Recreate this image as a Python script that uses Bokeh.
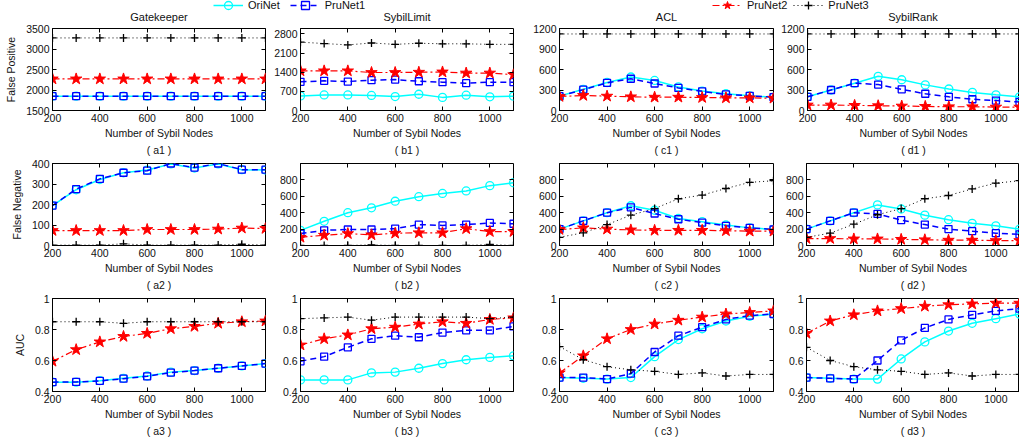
from bokeh.plotting import figure
from bokeh.layouts import column, row
from bokeh.models import (Range1d, FixedTicker, LinearAxis, Title, Legend, LegendItem,
                          NumeralTickFormatter, Label)
from bokeh.embed import file_html
from bokeh.resources import INLINE

# ---------------- data ----------------
nodes = [200, 300, 400, 500, 600, 700, 800, 900, 1000, 1100]
series = ["OriNet", "PruNet1", "PruNet2", "PruNet3"]
schemes = ["Gatekeeper", "SybilLimit", "ACL", "SybilRank"]
metrics = ["False Positive", "False Negative", "AUC"]
x_ticks = [200, 400, 600, 800, 1000]

# Row 1: False Positive
gk_fp_ori = [1850, 1850, 1850, 1850, 1850, 1850, 1850, 1850, 1850, 1850]
gk_fp_pru1 = [1850, 1850, 1850, 1850, 1850, 1850, 1850, 1850, 1850, 1850]
gk_fp_pru2 = [2270, 2270, 2270, 2270, 2270, 2270, 2270, 2270, 2270, 2270]
gk_fp_pru3 = [3270, 3270, 3270, 3270, 3270, 3270, 3270, 3270, 3270, 3270]

sl_fp_ori = [535, 570, 570, 550, 510, 595, 480, 560, 500, 525]
sl_fp_pru1 = [1050, 1085, 1060, 1110, 1130, 1070, 1035, 1000, 1035, 1035]
sl_fp_pru2 = [1450, 1450, 1450, 1390, 1390, 1400, 1410, 1370, 1370, 1310]
sl_fp_pru3 = [2500, 2450, 2400, 2470, 2420, 2460, 2440, 2440, 2420, 2420]

acl_fp_ori = [210, 310, 410, 490, 440, 345, 285, 245, 215, 195]
acl_fp_pru1 = [210, 305, 405, 465, 395, 330, 280, 235, 215, 195]
acl_fp_pru2 = [205, 220, 210, 200, 195, 195, 190, 185, 185, 180]
acl_fp_pru3 = [1120, 1120, 1120, 1120, 1120, 1120, 1120, 1120, 1120, 1120]

sr_fp_ori = [200, 300, 400, 500, 450, 375, 315, 265, 230, 200]
sr_fp_pru1 = [200, 300, 400, 380, 310, 245, 200, 165, 145, 125]
sr_fp_pru2 = [80, 80, 75, 70, 65, 60, 55, 55, 50, 50]
sr_fp_pru3 = [1120, 1120, 1120, 1120, 1120, 1120, 1120, 1120, 1120, 1120]

# Row 2: False Negative
gk_fn_ori = [195, 272, 322, 355, 368, 398, 378, 398, 370, 368]
gk_fn_pru1 = [195, 275, 325, 355, 365, 400, 380, 400, 370, 370]
gk_fn_pru2 = [73, 73, 73, 73, 78, 78, 78, 80, 85, 83]
gk_fn_pru3 = [2, 2, 2, 8, 2, 2, 2, 2, 6, 2]

sl_fn_ori = [185, 295, 400, 460, 540, 595, 635, 665, 730, 765]
sl_fn_pru1 = [145, 185, 195, 195, 205, 255, 245, 255, 275, 265]
sl_fn_pru2 = [100, 125, 145, 130, 150, 155, 155, 205, 170, 170]
sl_fn_pru3 = [0, 0, 0, 8, 0, 0, 0, 0, 12, 0]

acl_fn_ori = [200, 300, 400, 485, 430, 330, 290, 250, 215, 195]
acl_fn_pru1 = [200, 300, 400, 465, 390, 320, 280, 240, 215, 195]
acl_fn_pru2 = [195, 215, 200, 190, 185, 185, 185, 180, 175, 175]
acl_fn_pru3 = [100, 155, 255, 370, 450, 570, 615, 695, 770, 790]

sr_fn_ori = [200, 300, 400, 495, 445, 370, 315, 270, 240, 200]
sr_fn_pru1 = [200, 300, 400, 385, 310, 255, 200, 175, 150, 135]
sr_fn_pru2 = [85, 85, 80, 80, 75, 70, 65, 65, 60, 60]
sr_fn_pru3 = [100, 150, 260, 375, 450, 570, 610, 690, 760, 790]

# Row 3: AUC
gk_auc_ori = [0.46, 0.46, 0.47, 0.485, 0.5, 0.525, 0.535, 0.55, 0.565, 0.58]
gk_auc_pru1 = [0.46, 0.462, 0.468, 0.483, 0.498, 0.522, 0.535, 0.55, 0.565, 0.58]
gk_auc_pru2 = [0.595, 0.67, 0.72, 0.755, 0.775, 0.805, 0.82, 0.84, 0.85, 0.855]
gk_auc_pru3 = [0.85, 0.85, 0.85, 0.84, 0.85, 0.85, 0.85, 0.85, 0.85, 0.85]

sl_auc_ori = [0.475, 0.475, 0.475, 0.52, 0.525, 0.55, 0.58, 0.605, 0.62, 0.63]
sl_auc_pru1 = [0.595, 0.625, 0.685, 0.74, 0.76, 0.75, 0.78, 0.795, 0.795, 0.82]
sl_auc_pru2 = [0.70, 0.74, 0.765, 0.805, 0.815, 0.835, 0.85, 0.84, 0.865, 0.875]
sl_auc_pru3 = [0.87, 0.875, 0.88, 0.86, 0.88, 0.88, 0.88, 0.88, 0.87, 0.88]

acl_auc_ori = [0.49, 0.485, 0.48, 0.49, 0.625, 0.735, 0.805, 0.855, 0.885, 0.90]
acl_auc_pru1 = [0.49, 0.49, 0.48, 0.515, 0.655, 0.76, 0.815, 0.865, 0.89, 0.90]
acl_auc_pru2 = [0.52, 0.63, 0.74, 0.80, 0.835, 0.86, 0.88, 0.90, 0.91, 0.92]
acl_auc_pru3 = [0.69, 0.605, 0.56, 0.54, 0.53, 0.51, 0.52, 0.50, 0.51, 0.51]

sr_auc_ori = [0.49, 0.485, 0.48, 0.48, 0.61, 0.72, 0.79, 0.84, 0.87, 0.90]
sr_auc_pru1 = [0.49, 0.485, 0.48, 0.60, 0.73, 0.81, 0.865, 0.895, 0.92, 0.935]
sr_auc_pru2 = [0.775, 0.855, 0.895, 0.92, 0.935, 0.95, 0.96, 0.965, 0.97, 0.97]
sr_auc_pru3 = [0.685, 0.60, 0.56, 0.54, 0.53, 0.51, 0.52, 0.50, 0.51, 0.51]

fp_yticks_gk = [1500, 2000, 2500, 3000, 3500]
fp_yticks_sl = [0, 700, 1400, 2100, 2800]
fp_yticks_other = [0, 300, 600, 900, 1200]
fn_yticks_gk = [0, 100, 200, 300, 400]
fn_yticks_other = [0, 200, 400, 600, 800]
auc_yticks = [0.4, 0.6, 0.8, 1.0]

# ---------------- styles ----------------
FONT = "Liberation Sans"
TXT = "#111111"
STYLES = {
    "OriNet": dict(color="#00FFFF", dash="solid", marker="circle", size=8, lw=1.5, mlw=1.3, fill=None),
    "PruNet1": dict(color="#0000FF", dash="6 4", marker="square", size=7, lw=1.5, mlw=1.3, fill=None),
    "PruNet2": dict(color="#FF0000", dash="7 3 2 3", marker="star", size=12, lw=1.2, mlw=1.0, fill="#FF0000"),
    "PruNet3": dict(color="#000000", dash="1 3", marker="cross", size=8, lw=1.0, mlw=1.3, fill=None),
}

COLS = [dict(w=270, bl=52, br=5, right=True),
        dict(w=248, bl=30, br=5, right=True),
        dict(w=260, bl=41, br=5, right=True),
        dict(w=241, bl=28, br=0, right=False)]
STRIP_H = 24
ROWS = [dict(h=134, bt=4, bb=48),
        dict(h=134, bt=5, bb=47),
        dict(h=145, bt=6, bb=44)]


def style_axis(ax):
    ax.major_tick_in = 4
    ax.major_tick_out = 0
    ax.minor_tick_line_color = None
    ax.major_tick_line_color = "black"
    ax.axis_line_color = "black"
    ax.major_label_text_font = FONT
    ax.major_label_text_font_size = "10.5px"
    ax.major_label_text_color = TXT
    ax.major_label_standoff = 3
    ax.axis_label_text_font = FONT
    ax.axis_label_text_font_size = "10.5px"
    ax.axis_label_text_font_style = "normal"
    ax.axis_label_text_color = TXT


def mirror_axis(ticks):
    # tick marks only (MATLAB "box on" style), labels not painted
    ax = LinearAxis(ticker=FixedTicker(ticks=ticks))
    ax.major_tick_in = 4
    ax.major_tick_out = 0
    ax.minor_tick_line_color = None
    ax.axis_line_color = None
    ax.major_label_text_color = None
    ax.major_label_text_font_size = "1px"
    ax.major_label_standoff = 0
    return ax


def make_panel(ci, ri, data, yr, yticks, sub, ylabel=None, auc=False):
    c = COLS[ci]
    r = ROWS[ri]
    p = figure(width=c["w"], height=r["h"], x_range=Range1d(200, 1100), y_range=Range1d(*yr),
               output_backend="svg", toolbar_location=None, title=None,
               min_border_left=c["bl"], min_border_right=c["br"],
               min_border_top=r["bt"], min_border_bottom=r["bb"])
    p.xgrid.visible = False
    p.ygrid.visible = False
    p.outline_line_color = "black"
    p.outline_line_width = 1
    p.background_fill_color = "white"
    p.border_fill_color = "white"
    for name, ys in zip(series, data):
        st = STYLES[name]
        p.line(nodes, ys, line_color=st["color"], line_width=st["lw"], line_dash=st["dash"])
        p.scatter(nodes, ys, marker=st["marker"], size=st["size"], line_color=st["color"],
                  line_width=st["mlw"], fill_color=st["fill"] if st["fill"] else "white",
                  fill_alpha=1.0 if st["fill"] else 0.0)
    style_axis(p.xaxis[0])
    style_axis(p.yaxis[0])
    p.xaxis.ticker = FixedTicker(ticks=x_ticks)
    p.yaxis.ticker = FixedTicker(ticks=yticks)
    if auc:
        p.yaxis.formatter = NumeralTickFormatter(format="0.[0]")
    p.xaxis.axis_label = "Number of Sybil Nodes"
    p.xaxis.axis_label_standoff = 2
    if ylabel:
        p.yaxis.axis_label = ylabel
        p.yaxis.axis_label_standoff = 6
    p.add_layout(mirror_axis(x_ticks), "above")
    if c["right"]:
        p.add_layout(mirror_axis(yticks), "right")
    p.add_layout(Title(text=sub, align="center", text_font=FONT, text_font_size="10.5px",
                       text_font_style="normal", text_color=TXT, standoff=1), "below")
    return p


letters = ["a", "b", "c", "d"]
row1_data = [[gk_fp_ori, gk_fp_pru1, gk_fp_pru2, gk_fp_pru3],
             [sl_fp_ori, sl_fp_pru1, sl_fp_pru2, sl_fp_pru3],
             [acl_fp_ori, acl_fp_pru1, acl_fp_pru2, acl_fp_pru3],
             [sr_fp_ori, sr_fp_pru1, sr_fp_pru2, sr_fp_pru3]]
row2_data = [[gk_fn_ori, gk_fn_pru1, gk_fn_pru2, gk_fn_pru3],
             [sl_fn_ori, sl_fn_pru1, sl_fn_pru2, sl_fn_pru3],
             [acl_fn_ori, acl_fn_pru1, acl_fn_pru2, acl_fn_pru3],
             [sr_fn_ori, sr_fn_pru1, sr_fn_pru2, sr_fn_pru3]]
row3_data = [[gk_auc_ori, gk_auc_pru1, gk_auc_pru2, gk_auc_pru3],
             [sl_auc_ori, sl_auc_pru1, sl_auc_pru2, sl_auc_pru3],
             [acl_auc_ori, acl_auc_pru1, acl_auc_pru2, acl_auc_pru3],
             [sr_auc_ori, sr_auc_pru1, sr_auc_pru2, sr_auc_pru3]]

fp_ranges = [(1500, 3500), (0, 3000), (0, 1200), (0, 1200)]
fp_ticks = [fp_yticks_gk, fp_yticks_sl, fp_yticks_other, fp_yticks_other]
fn_ranges = [(0, 400), (0, 1000), (0, 1000), (0, 1000)]
fn_ticks = [fn_yticks_gk, fn_yticks_other, fn_yticks_other, fn_yticks_other]

r1, r2, r3 = [], [], []
for i in range(4):
    r1.append(make_panel(i, 0, row1_data[i], fp_ranges[i], fp_ticks[i], "( %s1 )" % letters[i],
                         ylabel=metrics[0] if i == 0 else None))
    r2.append(make_panel(i, 1, row2_data[i], fn_ranges[i], fn_ticks[i], "( %s2 )" % letters[i],
                         ylabel=metrics[1] if i == 0 else None))
    r3.append(make_panel(i, 2, row3_data[i], (0.4, 1.0), auc_yticks, "( %s3 )" % letters[i],
                         ylabel=metrics[2] if i == 0 else None, auc=True))

# ---------------- top strip: legend + column titles ----------------
total_w = sum(c["w"] for c in COLS)
lf = figure(width=total_w, height=STRIP_H, x_range=Range1d(0, 1), y_range=Range1d(0, 1),
            output_backend="svg", toolbar_location=None, min_border=0,
            x_axis_type=None, y_axis_type=None)
lf.outline_line_color = None
lf.background_fill_color = "white"
lf.border_fill_color = "white"
items = []
nan = float("nan")
for name in series:
    st = STYLES[name]
    rl = lf.line(x=[nan], y=[nan], line_color=st["color"], line_width=st["lw"], line_dash=st["dash"])
    rs = lf.scatter(x=[nan], y=[nan], marker=st["marker"], size=st["size"], line_color=st["color"],
                    line_width=st["mlw"], fill_color=st["fill"] if st["fill"] else "white",
                    fill_alpha=1.0 if st["fill"] else 0.0)
    items.append(LegendItem(label=name, renderers=[rl, rs]))

LEG_BOX = 20      # legend row height (glyph area)
LEG_CENTER = 5    # legend centre, pixels from the top of the page


def mk_legend(its, x, spacing):
    return Legend(items=its, location=(x, STRIP_H - LEG_CENTER - LEG_BOX / 2),
                  orientation="horizontal", glyph_width=30,
                  glyph_height=LEG_BOX, label_height=LEG_BOX, label_standoff=5, spacing=spacing,
                  padding=0, margin=0, border_line_color=None, background_fill_alpha=0,
                  label_text_font=FONT, label_text_font_size="11px", label_text_color=TXT)


lf.add_layout(mk_legend(items[:2], 213, 10))
lf.add_layout(mk_legend(items[2:], 712, 6))

# column titles centred over each plotting frame
left = 0
for c, name in zip(COLS, schemes):
    fw = c["w"] - c["bl"] - c["br"]
    lf.add_layout(Label(x=left + c["bl"] + fw / 2, y=STRIP_H - 16, x_units="screen", y_units="screen",
                        text=name, text_align="center", text_baseline="middle",
                        text_font=FONT, text_font_size="11px", text_color=TXT))
    left += c["w"]

layout = column(lf, row(*r1), row(*r2), row(*r3))
open("out.html", "w").write(file_html(layout, INLINE))
